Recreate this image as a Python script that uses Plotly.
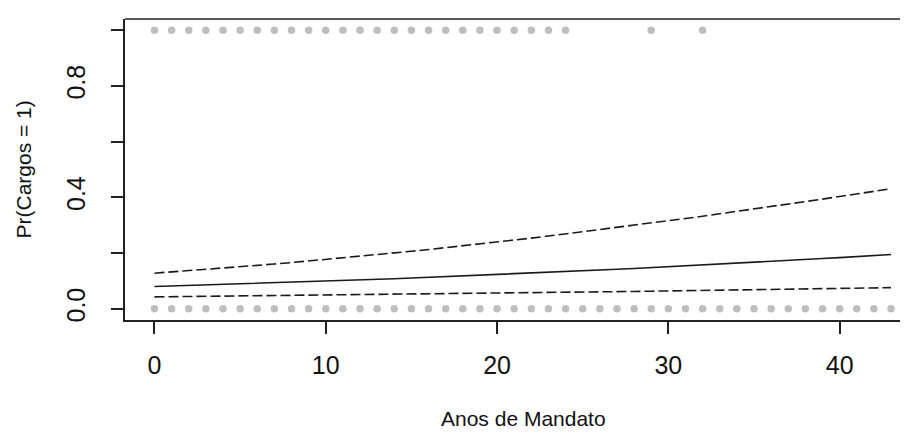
import plotly.graph_objects as go

# Observed outcomes (Cargos = 1 at top, Cargos = 0 at bottom)
x_ones = [0, 1, 2, 3, 4, 5, 6, 7, 8, 9, 10, 11, 12, 13, 14, 15, 16, 17, 18, 19,
          20, 21, 22, 23, 24, 29, 32]
y_ones = [1] * len(x_ones)
x_zeros = list(range(0, 44))
y_zeros = [0] * len(x_zeros)

# Predicted probability and confidence band
x_pred = list(range(0, 44))
p_fit = [0.0800, 0.0818, 0.0836, 0.0854, 0.0873, 0.0892, 0.0912, 0.0932, 0.0952, 0.0973,
         0.0994, 0.1016, 0.1038, 0.1059, 0.1082, 0.1106, 0.1130, 0.1154, 0.1178, 0.1202,
         0.1229, 0.1255, 0.1280, 0.1307, 0.1335, 0.1362, 0.1391, 0.1420, 0.1448, 0.1478,
         0.1508, 0.1539, 0.1571, 0.1602, 0.1634, 0.1667, 0.1701, 0.1735, 0.1769, 0.1804,
         0.1839, 0.1875, 0.1912, 0.1949]
p_upper = [0.1280, 0.1323, 0.1367, 0.1414, 0.1460, 0.1508, 0.1558, 0.1608, 0.1661, 0.1715,
           0.1770, 0.1825, 0.1883, 0.1942, 0.2004, 0.2066, 0.2128, 0.2193, 0.2262, 0.2326,
           0.2398, 0.2463, 0.2538, 0.2611, 0.2688, 0.2762, 0.2841, 0.2915, 0.2994, 0.3077,
           0.3155, 0.3236, 0.3322, 0.3413, 0.3497, 0.3584, 0.3676, 0.3759, 0.3846, 0.3937,
           0.4032, 0.4132, 0.4219, 0.4310]
p_lower = [0.0430, 0.0436, 0.0442, 0.0448, 0.0454, 0.0460, 0.0466, 0.0472, 0.0479, 0.0485,
           0.0492, 0.0499, 0.0505, 0.0512, 0.0519, 0.0526, 0.0533, 0.0540, 0.0547, 0.0555,
           0.0562, 0.0570, 0.0577, 0.0585, 0.0593, 0.0601, 0.0609, 0.0617, 0.0625, 0.0634,
           0.0642, 0.0651, 0.0659, 0.0668, 0.0676, 0.0685, 0.0694, 0.0704, 0.0713, 0.0722,
           0.0732, 0.0741, 0.0751, 0.0760]

x_ticks = [0, 10, 20, 30, 40]
y_ticks = [0, 0.2, 0.4, 0.6, 0.8, 1.0]
y_ticktext = ["0.0", "", "0.4", "", "0.8", ""]

FONT = "Liberation Sans, Arial, sans-serif"
dot_color = "#BEBEBE"

fig = go.Figure()
fig.add_trace(go.Scatter(x=x_ones, y=y_ones, mode="markers",
                         marker=dict(color=dot_color, size=7.5), showlegend=False))
fig.add_trace(go.Scatter(x=x_zeros, y=y_zeros, mode="markers",
                         marker=dict(color=dot_color, size=7.5), showlegend=False))
fig.add_trace(go.Scatter(x=x_pred, y=p_fit, mode="lines",
                         line=dict(color="#1a1a1a", width=1.6), showlegend=False))
fig.add_trace(go.Scatter(x=x_pred, y=p_upper, mode="lines",
                         line=dict(color="#1a1a1a", width=1.6, dash="10px,4px"), showlegend=False))
fig.add_trace(go.Scatter(x=x_pred, y=p_lower, mode="lines",
                         line=dict(color="#1a1a1a", width=1.6, dash="10px,4px"), showlegend=False))

axis_common = dict(showgrid=False, zeroline=False, showline=True, linecolor="#222222",
                   linewidth=1.5, ticks="outside", ticklen=12, tickwidth=1.5, automargin=False,
                   tickcolor="#222222", tickfont=dict(family=FONT, size=25, color="#111111"))

# the page body has an 8px default margin, so the figure is sized 8px smaller
fig.update_layout(
    width=900, height=430,
    margin=dict(l=117, r=0, t=11, b=118),
    paper_bgcolor="white", plot_bgcolor="white",
    xaxis=dict(range=[-1.72, 43.99], tickvals=x_ticks, ticklabelstandoff=10, **axis_common),
    yaxis=dict(range=[-0.04, 1.04], tickvals=y_ticks, ticktext=y_ticktext, tickangle=-90,
               ticklabelstandoff=16, **axis_common),
    shapes=[dict(type="line", xref="paper", yref="paper", x0=0, x1=1, y0=1, y1=1,
                 line=dict(color="#222222", width=1.5))],
    annotations=[
        dict(text="Anos de Mandato", xref="paper", yref="paper", x=0.5, y=0,
             xanchor="center", yanchor="middle", xshift=7, yshift=-98, showarrow=False,
             font=dict(family=FONT, size=21, color="#111111")),
        dict(text="Pr(Cargos = 1)", xref="paper", yref="paper", x=0, y=0.5,
             xanchor="center", yanchor="middle", xshift=-102, textangle=-90, showarrow=False,
             font=dict(family=FONT, size=21, color="#111111")),
    ],
)

fig.write_html("out.html")
